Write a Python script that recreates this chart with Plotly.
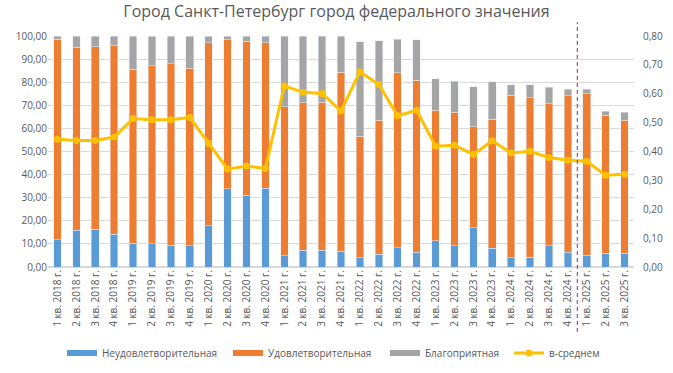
import plotly.graph_objects as go

categories = [f"{q} кв. {y} г." for y in range(2018, 2026) for q in range(1, 5)][:31]

unsatisfactory = [11.9, 15.9, 16.3, 14.2, 10.3, 10.0, 9.5, 9.1, 17.8, 33.8, 31.1, 34.1,
                  4.8, 7.2, 7.2, 6.8, 3.9, 5.5, 8.4, 6.4, 11.3, 9.1, 16.9, 8.2,
                  3.9, 4.2, 9.1, 6.4, 5.1, 5.9, 5.9]
orange_top = [98.7, 95.2, 95.3, 95.8, 85.7, 87.1, 87.9, 86.1, 97.1, 98.4, 97.8, 97.0,
              69.4, 71.1, 71.4, 84.4, 56.6, 63.6, 84.1, 80.8, 67.9, 66.9, 60.7, 64.0,
              74.3, 73.3, 70.7, 74.1, 75.1, 65.8, 63.6]
totals = [100, 100, 100, 100, 100, 100, 100, 100, 100, 100, 100, 100,
          100, 100, 100, 100, 97.5, 98.0, 98.7, 98.3, 81.4, 80.5, 78.0, 80.1,
          78.8, 78.8, 77.9, 77.0, 77.0, 67.5, 67.1]
average = [0.442, 0.438, 0.438, 0.450, 0.514, 0.510, 0.510, 0.518, 0.428, 0.339, 0.350, 0.341,
           0.627, 0.605, 0.601, 0.540, 0.676, 0.632, 0.524, 0.543, 0.418, 0.422, 0.390, 0.437,
           0.395, 0.401, 0.379, 0.370, 0.366, 0.318, 0.321]

satisfactory = [round(o - u, 2) for o, u in zip(orange_top, unsatisfactory)]
favorable = [round(t - o, 2) for t, o in zip(totals, orange_top)]

series_names = ["Неудовлетворительная", "Удовлетворительная", "Благоприятная", "в-среднем"]
series_colors = ["#5B9BD5", "#ED7D31", "#A5A5A5", "#FFC000"]

FONT = "Open Sans"
TXT = "#595959"
W, H = 673, 373

fig = go.Figure()
for vals, name, col in zip([unsatisfactory, satisfactory, favorable], series_names[:3], series_colors[:3]):
    fig.add_trace(go.Bar(x=categories, y=vals, name=name, marker_color=col, showlegend=False))

fig.add_trace(go.Scatter(x=categories, y=average, name=series_names[3], yaxis="y2",
                         mode="lines+markers",
                         line=dict(color=series_colors[3], width=3),
                         marker=dict(color=series_colors[3], size=7),
                         legend="legend4"))

# legend swatches (wide flat rectangles like the original)
legend_ids = ["legend", "legend2", "legend3"]
for name, col, lid in zip(series_names[:3], series_colors[:3], legend_ids):
    fig.add_trace(go.Scatter(x=[None], y=[None], name=name, mode="lines",
                             line=dict(color=col, width=6), legend=lid,
                             hoverinfo="skip"))

fig.add_shape(type="line", xref="x", yref="paper", x0=27.5, x1=27.5, y0=-0.281, y1=1.06,
              line=dict(color="#7030A0", width=1, dash="4px,3px"), layer="above")

legend_text_x = [101, 267, 424, 548]
legend_common = dict(orientation="h", xref="container", yref="container",
                     xanchor="left", yanchor="middle", y=(H - 353) / H,
                     font=dict(size=10, color=TXT, family=FONT),
                     bgcolor="rgba(0,0,0,0)", borderwidth=0)

layout_legends = {}
for i, tx in enumerate(legend_text_x):
    key = "legend" if i == 0 else f"legend{i + 1}"
    layout_legends[key] = dict(legend_common, x=(tx - 39) / W)

fig.update_layout(
    width=W, height=H,
    barmode="stack", bargap=0.6,
    separators=", ",
    hovermode=False,
    paper_bgcolor="white", plot_bgcolor="white",
    margin=dict(l=48, r=39, t=36, b=106, autoexpand=False),
    font=dict(family=FONT, size=10, color=TXT),
    title=dict(text="Город Санкт-Петербург город федерального значения",
               xref="container", yref="container",
               x=0.5, xanchor="center", y=1 - 11 / H, yanchor="middle",
               font=dict(size=16, color=TXT, family=FONT)),
    xaxis=dict(type="category", range=[-0.5, len(categories) - 0.5], tickangle=-90,
               showgrid=False, showline=False,
               ticks="", automargin=False, tickfont=dict(size=10, color=TXT)),
    yaxis=dict(range=[0, 100], dtick=10, tickformat=".2f", showgrid=True,
               gridcolor="#D9D9D9", gridwidth=1, zeroline=True, zerolinecolor="#D9D9D9",
               ticks="", automargin=False, tickfont=dict(size=10, color=TXT)),
    yaxis2=dict(range=[0, 0.8], dtick=0.1, tickformat=".2f", overlaying="y", side="right",
                showgrid=False, zeroline=False, ticks="", automargin=False,
                ticklabelstandoff=8, tickfont=dict(size=10, color=TXT)),
    **layout_legends,
)

fig.write_html("out.html", config={"displayModeBar": False, "staticPlot": True},
               post_script="document.body.style.margin='0';document.body.style.overflow='hidden';")
